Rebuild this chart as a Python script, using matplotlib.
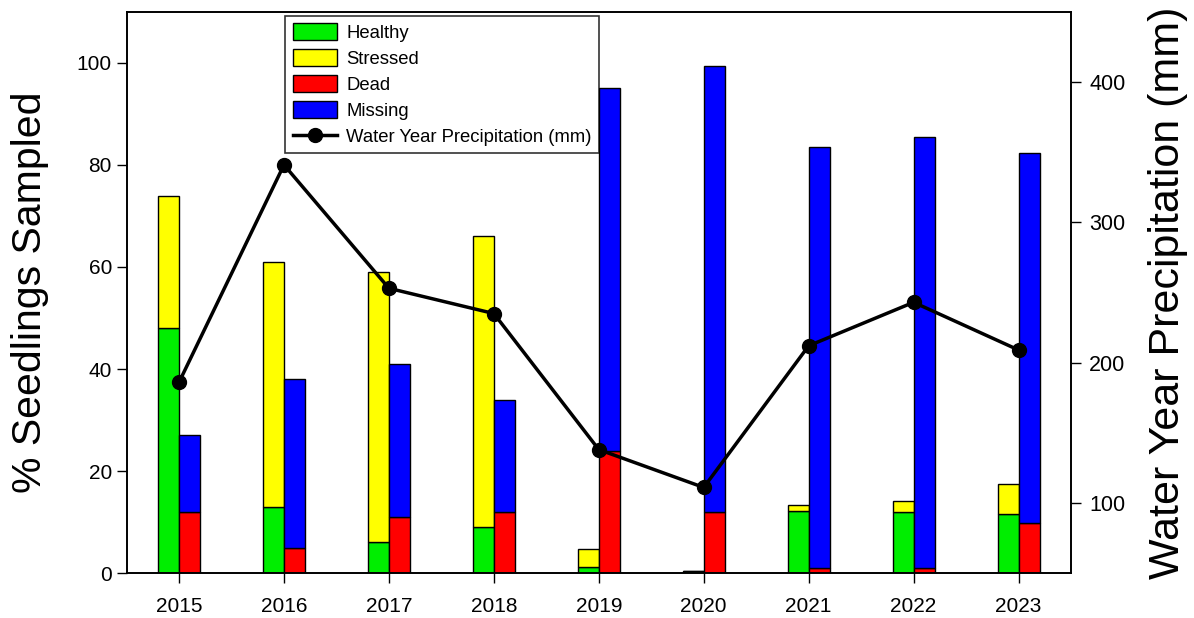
import numpy as np
import matplotlib
matplotlib.use("Agg")
import matplotlib.pyplot as plt
from matplotlib.patches import Patch
from matplotlib.lines import Line2D

plt.rcParams['font.family'] = ['Liberation Sans', 'DejaVu Sans']

years = ['2015', '2016', '2017', '2018', '2019', '2020', '2021', '2022', '2023']
healthy = [48, 13, 6, 9, 1.2, 0.3, 12.1, 12, 11.5]
stressed = [26, 48, 53, 57, 3.5, 0, 1.2, 2.2, 6]
dead = [12, 5, 11, 12, 24, 12, 1, 1, 9.8]
missing = [15, 33, 30, 22, 71, 87.5, 82.6, 84.4, 72.5]
precip = [186, 341, 253, 235, 138, 111, 212, 243, 209]

x = np.arange(len(years))
w = 0.2

fig = plt.figure(figsize=(11.94, 6.18), dpi=100)
ax = fig.add_axes([0.106, 0.0728, 0.791, 0.9078])

# left bar: healthy + stressed, right bar: dead + missing
ax.bar(x - w/2, healthy, w, color='#00ee00', edgecolor='black', linewidth=1)
ax.bar(x - w/2, stressed, w, bottom=healthy, color='#ffff00', edgecolor='black', linewidth=1)
ax.bar(x + w/2, dead, w, color='#ff0000', edgecolor='black', linewidth=1)
ax.bar(x + w/2, missing, w, bottom=dead, color='#0000ff', edgecolor='black', linewidth=1)

ax.set_xlim(-0.5, len(years) - 0.5)
ax.set_ylim(0, 110)
ax.set_yticks([0, 20, 40, 60, 80, 100])
ax.set_xticks(x)
ax.set_xticklabels(years)
ax.tick_params(axis='both', labelsize=15, direction='out', length=7, width=1)
ax.tick_params(axis='x', pad=10)
ax.set_ylabel('% Seedlings Sampled', fontsize=29.5, labelpad=20)

ax2 = ax.twinx()
ax2.plot(x, precip, color='black', linewidth=2.5, marker='o', markersize=10)
ax2.set_ylim(50, 450)
ax2.set_yticks([100, 200, 300, 400])
ax2.tick_params(axis='y', labelsize=15.5, direction='out', length=7, width=1, pad=6)
ax2.set_ylabel('Water Year Precipitation (mm)', fontsize=31, labelpad=16)

handles = [
    Patch(facecolor='#00ee00', edgecolor='black', label='Healthy'),
    Patch(facecolor='#ffff00', edgecolor='black', label='Stressed'),
    Patch(facecolor='#ff0000', edgecolor='black', label='Dead'),
    Patch(facecolor='#0000ff', edgecolor='black', label='Missing'),
    Line2D([0], [0], color='black', linewidth=2.5, marker='o', markersize=10,
           label='Water Year Precipitation (mm)'),
]
leg = ax2.legend(handles=handles, loc='upper left', bbox_to_anchor=(0.168, 0.993),
                 borderaxespad=0, fontsize=13.3, frameon=True, fancybox=False,
                 edgecolor='black', handlelength=2.4, handleheight=1.0,
                 handletextpad=0.5, labelspacing=0.4, borderpad=0.4)
leg.get_frame().set_linewidth(1.2)

for a in (ax, ax2):
    for s in a.spines.values():
        s.set_linewidth(1.2)

fig.savefig('out.png', dpi=100)
